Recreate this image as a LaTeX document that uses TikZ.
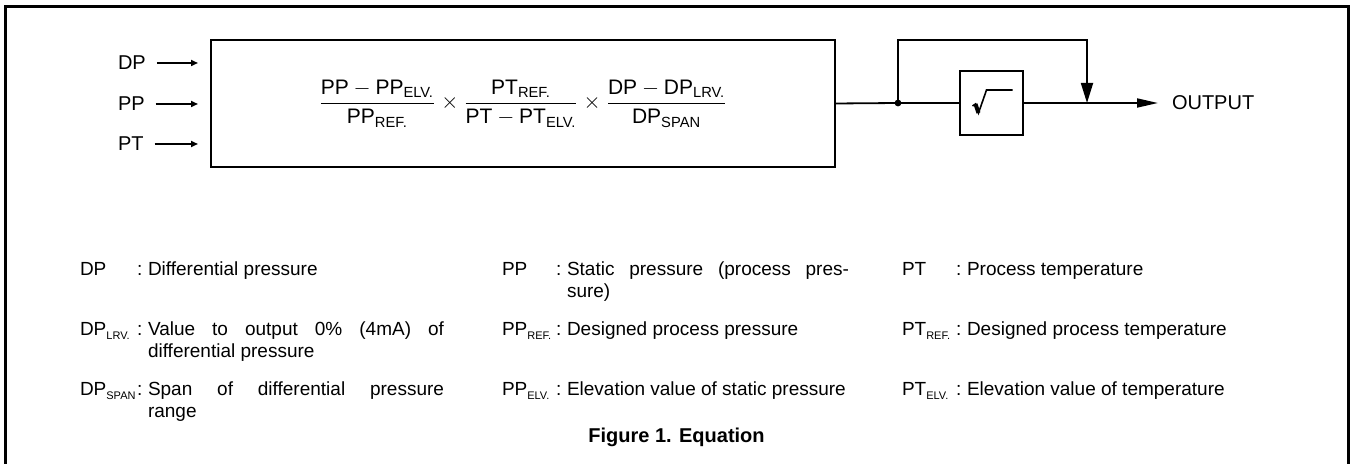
\documentclass[tikz,border=0pt]{standalone}
\usepackage{amsmath}
\usepackage{fontspec}
\setmainfont{Liberation Sans}
\usetikzlibrary{positioning, arrows.meta}

\newcommand{\pedice}[2]{#1\raisebox{-0.35ex}{\fontsize{5.5}{6}\selectfont #2}}

\begin{document}
\begin{tikzpicture}[x=0.5pt, y=-0.5pt,
    every node/.style={inner sep=0pt, outer sep=0pt},
    blocco/.style={draw, line width=1pt},
    linea/.style={line width=0.9pt},
    ingresso/.style={font=\fontsize{10}{12}\selectfont, anchor=west},
    freccina/.style={line width=0.8pt, -{Triangle[length=3.5pt, width=3pt]}},
    termine/.style={font=\fontsize{9.5}{11}\selectfont, anchor=base west},
    voce/.style={font=\fontsize{9.5}{11}\selectfont, anchor=north west, align=justify}]

    % Cornice esterna
    \useasboundingbox (0,0) rectangle (1350,464);
    \draw[line width=1.5pt] (5,480) -- (5,7) -- (1348,7) -- (1348,480);

    % Blocco con l'equazione
    \node[blocco, minimum width=312pt, minimum height=63.5pt, font=\fontsize{10.5}{12}\selectfont] (formula) at (523,103.5)
        {$\dfrac{\text{PP}-\text{PP}_{\text{ELV.}}}{\text{PP}_{\text{REF.}}}\times
          \dfrac{\text{PT}_{\text{REF.}}}{\text{PT}-\text{PT}_{\text{ELV.}}}\times
          \dfrac{\text{DP}-\text{DP}_{\text{LRV.}}}{\text{DP}_{\text{SPAN}}}$};

    % Ingressi
    \foreach \nome/\y in {DP/63, PP/104, PT/144} {
        \node[ingresso] (in-\nome) at (118,\y) {\nome};
        \draw[freccina] ([xshift=5.5pt]in-\nome.east) -- ([xshift=-6.5pt]formula.west |- in-\nome.east);
    }

    % Radice quadrata e uscita
    \coordinate (nodo) at (898,103);
    \node[blocco, minimum width=31.5pt, minimum height=32pt] (radice) at (991.5,103) {};
    \draw[line width=0.8pt, line join=miter] ([shift={(-19,3)}]radice.center) -- ([shift={(-16,1)}]radice.center)
        -- ([shift={(-13,10)}]radice.center) -- ([shift={(-5,-13)}]radice.center) -- ([shift={(21,-13)}]radice.center);
    \draw[line width=2pt] ([shift={(-16,1)}]radice.center) -- ([shift={(-13,10)}]radice.center);
    \coordinate (innesto) at (1087,103);
    \node[ingresso] (uscita) at (1172,103) {OUTPUT};

    \draw[linea] (formula.east) -- (nodo) -- (radice.west);
    \fill (nodo) circle (1.7pt);
    \draw[linea, -{Triangle[length=10.5pt, width=4.5pt]}, shorten >=7pt] (radice.east) -- (uscita.west);
    \draw[linea, -{Triangle[length=10pt, width=6pt]}] (nodo) -- (nodo |- formula.north) -| (innesto);

    % Legenda: x termine / scarto dei due punti / larghezza / linea di base / termine / testo
    \foreach \xt/\dc/\wt/\yt/\term/\testo in {
        80/57/148pt/276/{DP}/{Differential pressure},
        80/57/148pt/336/{\pedice{DP}{LRV.}}/{Value to output 0\% (4mA) of\linebreak differential pressure},
        80/57/148pt/396/{\pedice{DP}{SPAN}}/{Span of differential pressure\linebreak range},
        502/54/141pt/276/{PP}/{Static pressure (process pres-\linebreak sure)},
        502/54/141pt/336/{\pedice{PP}{REF.}}/{Designed process pressure},
        502/54/141pt/396/{\pedice{PP}{ELV.}}/{Elevation value of static pressure},
        902/54/170pt/276/{PT}/{Process temperature},
        902/54/170pt/336/{\pedice{PT}{REF.}}/{Designed process temperature},
        902/54/170pt/396/{\pedice{PT}{ELV.}}/{Elevation value of temperature}} {
        \node[termine] at (\xt,\yt) {\term};
        \node[termine] at ({\xt+\dc},\yt) {:};
        \node[voce, text width=\wt] at ({\xt+\dc+11},{\yt-15.4}) {\strut\testo};
    }

    % Didascalia
    \node[anchor=base, font=\fontsize{10}{12}\selectfont\bfseries] (didascalia) at (676.5,443) {Figure 1. Equation};
\end{tikzpicture}
\end{document}
